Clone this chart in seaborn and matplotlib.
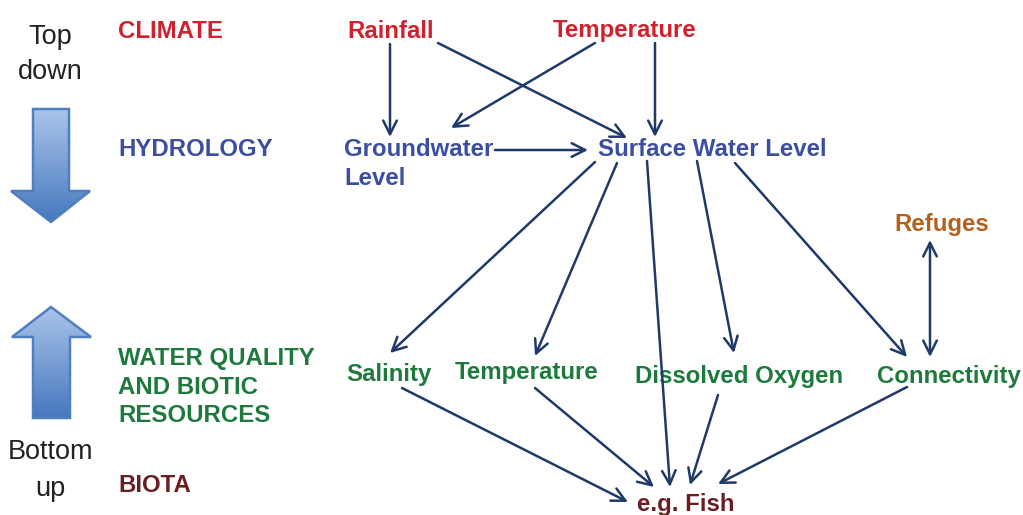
import matplotlib.pyplot as plt
import seaborn as sns
import numpy as np
from matplotlib.patches import Polygon
from matplotlib.colors import to_rgb

sns.set_theme(style="white")
plt.rcParams['font.family'] = ['Liberation Sans', 'DejaVu Sans']

# level labels on the left
level_names = ['CLIMATE', 'HYDROLOGY', 'WATER QUALITY\nAND BIOTIC\nRESOURCES', 'BIOTA']
level_y = [31, 150, 387, 485]
level_colors = ['#d0222c', '#3b4ea2', '#1e7a3c', '#6a1e22']

# nodes of the diagram (pixel positions of the text centre)
node_names = ['Rainfall', 'Temperature', 'Groundwater\nLevel', 'Surface Water Level',
              'Refuges', 'Salinity', 'Temperature', 'Dissolved Oxygen', 'Connectivity', 'e.g. Fish']
node_x = [391, 625, 344, 712, 942, 389, 527, 739, 949, 686]
node_y = [31, 31, 164, 150, 225, 374, 372, 377, 377, 505]
node_ha = ['center', 'center', 'left', 'center', 'center', 'center', 'center', 'center', 'center', 'center']
node_colors = ['#d0222c', '#d0222c', '#3b4ea2', '#3b4ea2', '#b5611c',
               '#1e7a3c', '#1e7a3c', '#1e7a3c', '#1e7a3c', '#6a1e22']

# links: start -> end
edges = [
    ((390, 44), (390, 137)),
    ((438, 43), (627, 138)),
    ((595, 43), (451, 128)),
    ((655, 43), (655, 137)),
    ((495, 150), (588, 150)),
    ((595, 162), (390, 353)),
    ((617, 163), (535, 356)),
    ((647, 161), (670, 487)),
    ((697, 161), (734, 353)),
    ((735, 163), (907, 357)),
    ((402, 388), (628, 502)),
    ((535, 388), (654, 487)),
    ((718, 395), (690, 485)),
    ((907, 387), (718, 484)),
]
double_edges = [((930, 240), (930, 357))]

fig, ax = plt.subplots(figsize=(10.23, 5.15), dpi=100)
fig.subplots_adjust(0, 0, 1, 1)

# block arrows with a vertical gradient
down_arrow = [(33, 109), (69, 109), (69, 191), (90, 191), (51, 222), (11, 191), (33, 191)]
up_arrow = [(51, 307), (91, 337), (70, 337), (70, 418), (33, 418), (33, 337), (12, 337)]
light, dark = np.array(to_rgb('#aac4ea')), np.array(to_rgb('#4678be'))
for pts in [down_arrow, up_arrow]:
    xs = [p[0] for p in pts]
    ys = [p[1] for p in pts]
    t = np.linspace(0, 1, 200)[:, None, None]
    grad = light * (1 - t) + dark * t
    poly = Polygon(pts, closed=True, facecolor='none', edgecolor='#4f7fbf', lw=1.8, zorder=3)
    ax.add_patch(poly)
    im = ax.imshow(grad, extent=(min(xs), max(xs), max(ys), min(ys)), origin='upper',
                   aspect='auto', zorder=2)
    im.set_clip_path(poly)

side_font = 19.5
ax.text(50, 37, 'Top', ha='center', va='center', fontsize=side_font, color='#222222')
ax.text(50, 72, 'down', ha='center', va='center', fontsize=side_font, color='#222222')
ax.text(50, 452, 'Bottom', ha='center', va='center', fontsize=side_font, color='#222222')
ax.text(50, 489, 'up', ha='center', va='center', fontsize=side_font, color='#222222')

label_font = 17.3
for name, y, c in zip(level_names, level_y, level_colors):
    ax.text(118, y, name, ha='left', va='center', fontsize=label_font, fontweight='bold',
            color=c, linespacing=1.3)

for name, x, y, ha, c in zip(node_names, node_x, node_y, node_ha, node_colors):
    ax.text(x, y, name, ha=ha, va='center', fontsize=label_font, fontweight='bold',
            color=c, linespacing=1.35)

arrow_color = '#1f3a68'
for (x0, y0), (x1, y1) in edges:
    ax.annotate('', xy=(x1, y1), xytext=(x0, y0),
                arrowprops=dict(arrowstyle='->,head_length=0.7,head_width=0.35',
                                color=arrow_color, lw=1.8, shrinkA=0, shrinkB=0,
                                mutation_scale=14))
for (x0, y0), (x1, y1) in double_edges:
    ax.annotate('', xy=(x1, y1), xytext=(x0, y0),
                arrowprops=dict(arrowstyle='<->,head_length=0.7,head_width=0.35',
                                color=arrow_color, lw=1.8, shrinkA=0, shrinkB=0,
                                mutation_scale=14))

ax.set_xlim(0, 1023)
ax.set_ylim(515, 0)
ax.set_axis_off()
fig.savefig('out.png', dpi=100)
